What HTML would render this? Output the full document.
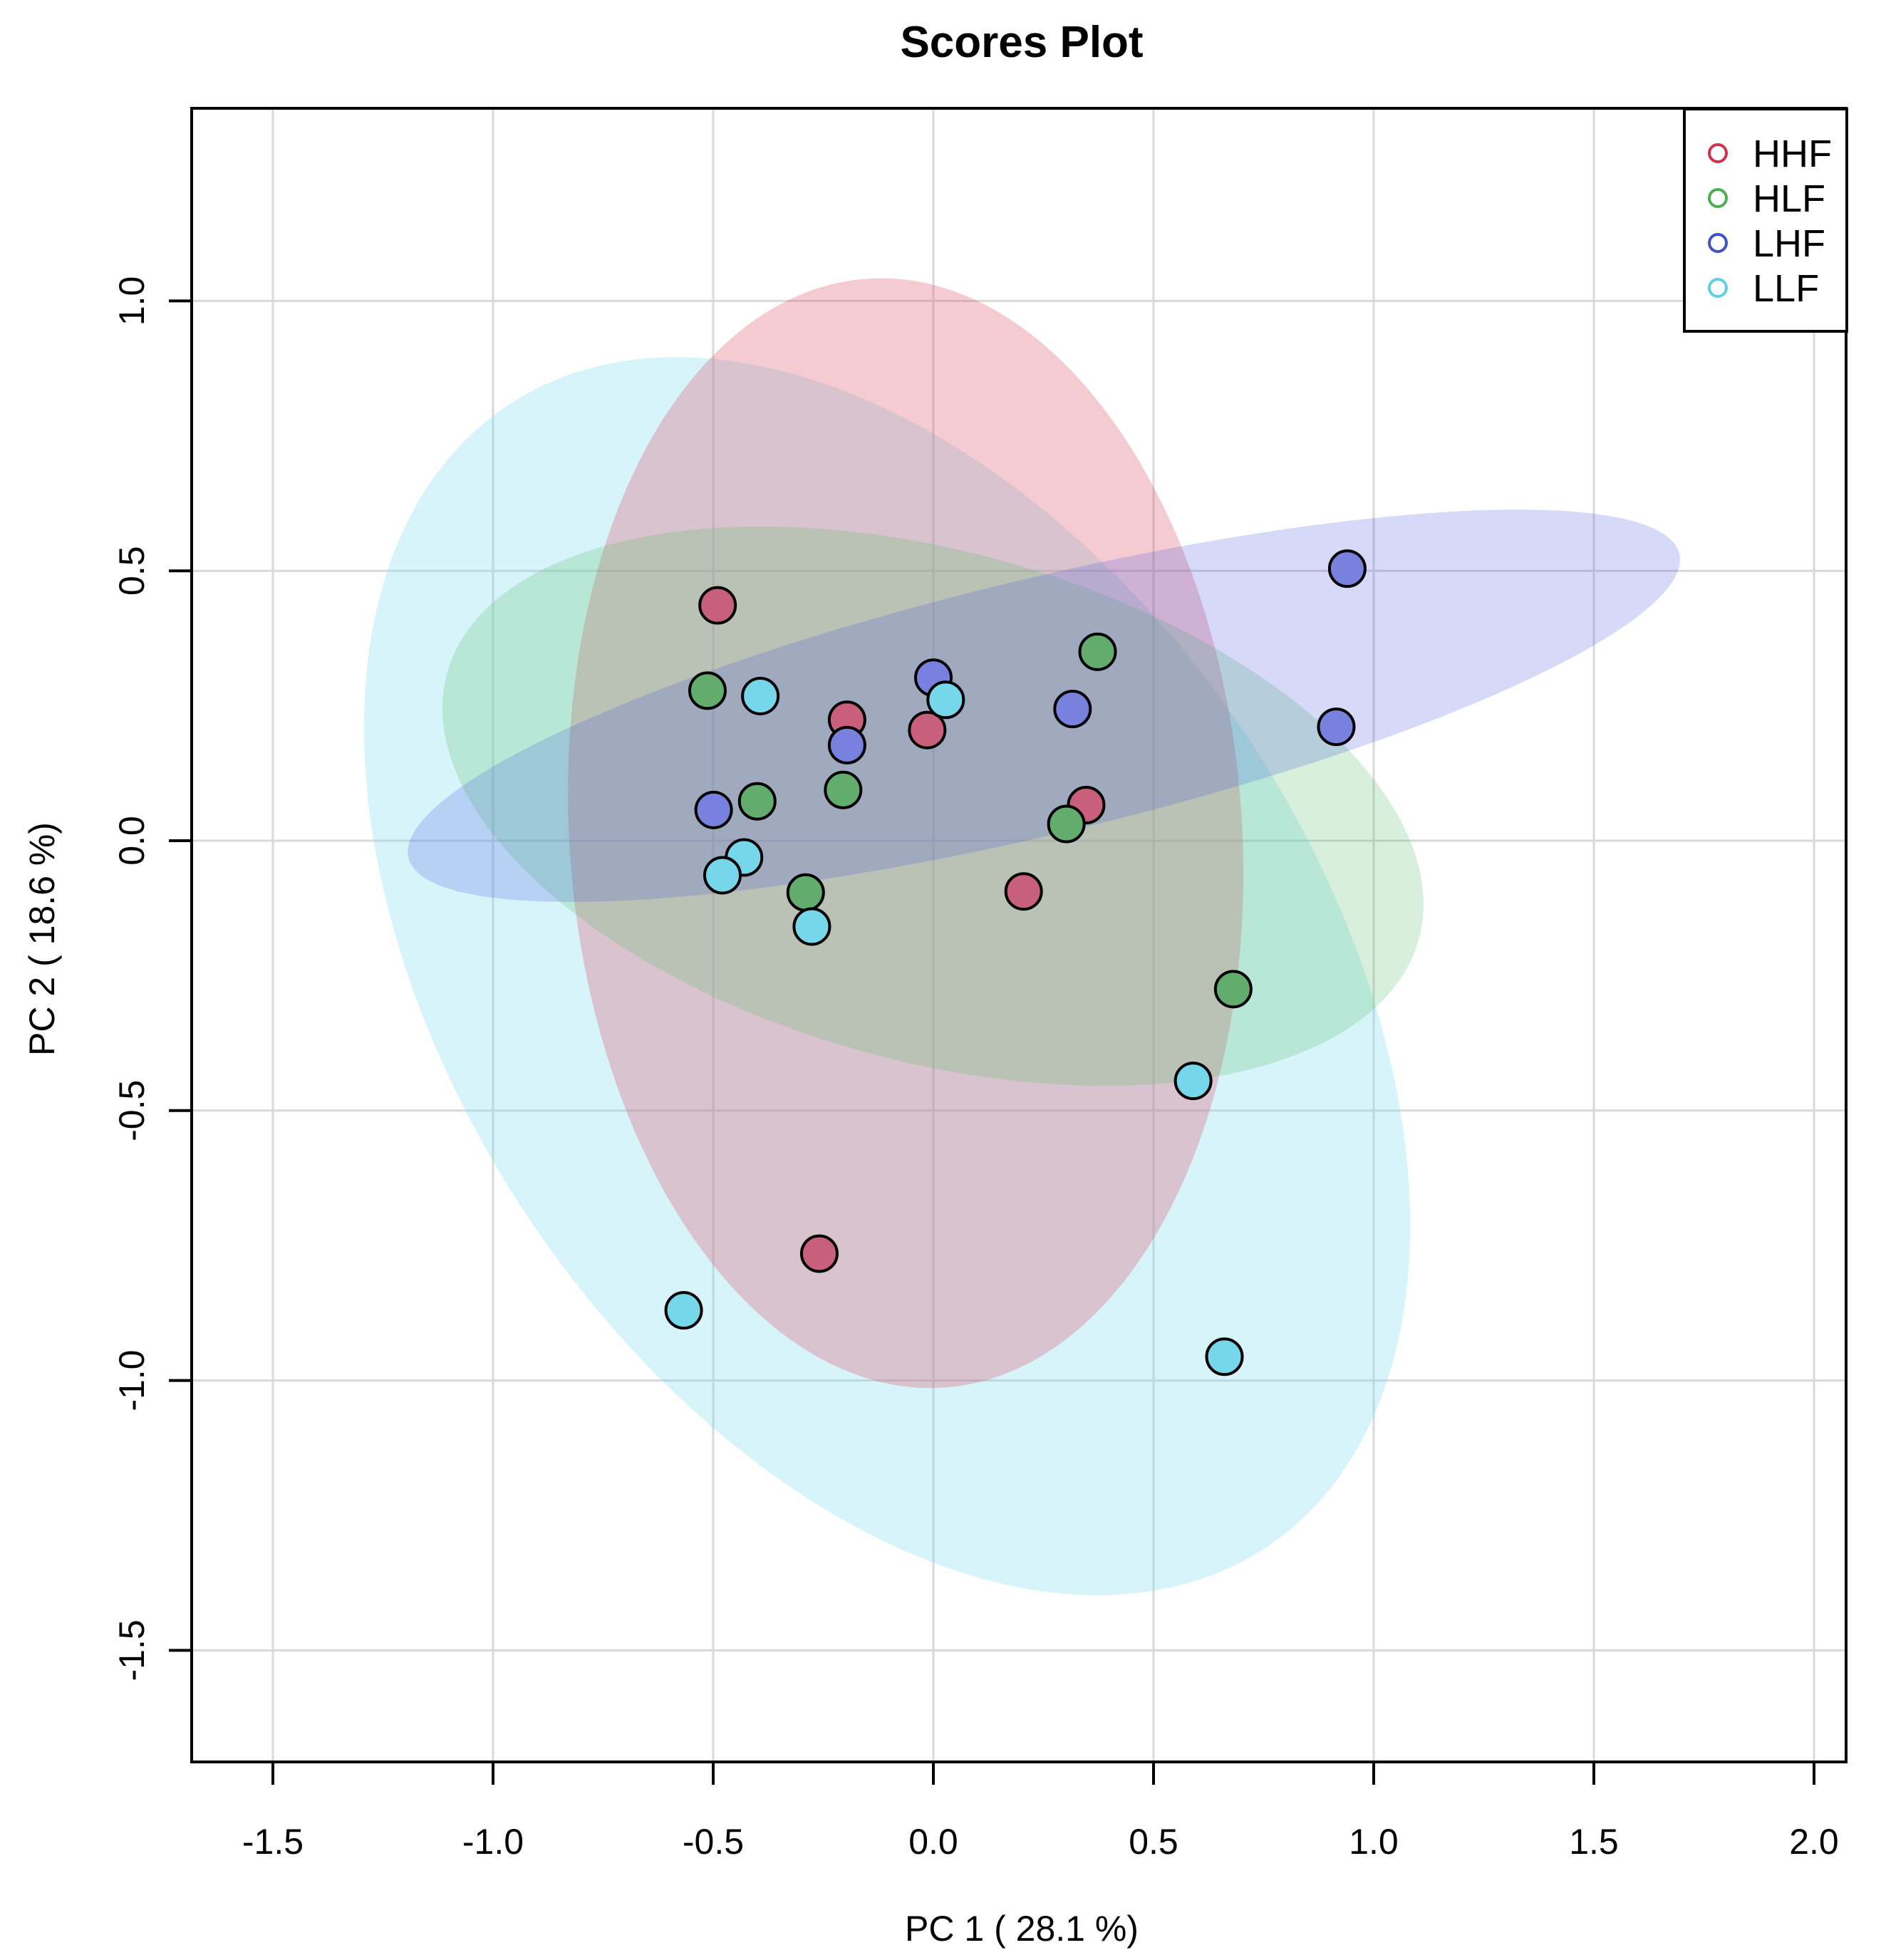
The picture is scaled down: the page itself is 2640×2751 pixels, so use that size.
<!DOCTYPE html>
<html><head><meta charset="utf-8"><style>
html,body{margin:0;padding:0;background:#fff;}
svg{display:block;}
text{font-family:"Liberation Sans",Arial,sans-serif;fill:#000;}
</style></head><body>
<svg id="chart" width="2640" height="2751" viewBox="0 0 2640 2751" xmlns="http://www.w3.org/2000/svg">
<text x="1434" y="80" font-size="62" font-weight="bold" text-anchor="middle">Scores Plot</text>
<g id="grid"></g>
<g id="ellipses"></g>
<g id="points"></g>
<rect x="269" y="152" width="2322" height="2321" fill="none" stroke="#000" stroke-width="4"/>
<g id="axes"></g>
<text x="1434" y="2724" font-size="50" text-anchor="middle">PC 1 ( 28.1 %)</text>
<text transform="translate(76,1318) rotate(-90)" font-size="50" text-anchor="middle">PC 2 ( 18.6 %)</text>
<g>
<rect x="2364" y="153" width="228" height="312" fill="#fff" stroke="#000" stroke-width="4"/>
<g id="legend"></g>
</g>
</svg>
<script>
const groups = ["HHF","HLF","LHF","LLF"];
const strokeColors = ["#d1334f","#4caf50","#3f51c8","#5fd0e6"];
const hhfX = [-0.49,-0.196,-0.014,0.347,0.205,-0.259];
const hhfY = [0.436,0.224,0.205,0.066,-0.094,-0.765];
const hlfX = [-0.513,0.373,-0.40,-0.205,0.302,-0.29,0.681];
const hlfY = [0.278,0.35,0.073,0.094,0.031,-0.096,-0.275];
const lhfX = [0.94,0.915,0.0,0.316,-0.196,-0.499];
const lhfY = [0.504,0.211,0.302,0.244,0.177,0.057];
const llfX = [-0.393,0.028,-0.43,-0.479,-0.276,0.59,-0.567,0.661];
const llfY = [0.268,0.261,-0.031,-0.064,-0.159,-0.445,-0.87,-0.956];
const xTicks = [-1.5,-1.0,-0.5,0.0,0.5,1.0,1.5,2.0];
const yTicks = [-1.5,-1.0,-0.5,0.0,0.5,1.0];
// ellipse centres in data units
const ellCX = [-0.063,-0.001,0.251,-0.105];
const ellCY = [0.014,0.064,0.250,-0.251];

const NS="http://www.w3.org/2000/svg";
const X0=1310, XU=618, Y0=1180, YU=757.6;
const L=269,R=2591,T=152,B=2473;
const sx=v=>X0+v*XU, sy=v=>Y0-v*YU;
function el(tag,attrs,parent){const e=document.createElementNS(NS,tag);for(const k in attrs)e.setAttribute(k,attrs[k]);parent.appendChild(e);return e;}
const grid=document.getElementById('grid'), axes=document.getElementById('axes');
xTicks.forEach(t=>{
  const g=el('line',{x1:sx(t),x2:sx(t),y1:T,y2:B,stroke:'#d9d9d9','stroke-width':3},grid);
  
  
  const tk=el('line',{x1:sx(t),x2:sx(t),y1:B,y2:B+32,stroke:'#000','stroke-width':4},axes);
  
  
  const tx=el('text',{x:sx(t),y:2602,'font-size':50,'text-anchor':'middle'},axes);
  tx.textContent=t.toFixed(1);
  
  
});
yTicks.forEach(t=>{
  const g=el('line',{x1:L,x2:R,y1:sy(t),y2:sy(t),stroke:'#d9d9d9','stroke-width':3},grid);
  
  
  const tk=el('line',{x1:L-32,x2:L,y1:sy(t),y2:sy(t),stroke:'#000','stroke-width':4},axes);
  
  
  const tx=el('text',{transform:`translate(202,${sy(t)}) rotate(-90)`,'font-size':50,'text-anchor':'middle'},axes);
  tx.textContent=t.toFixed(1);
  
  
});
// ellipses: pixel semi-axes and rotation (styling geometry)
const ellShape=[[472,780,-4],[707,358,15.3],[917,179,-13.45],[962,607,56.4]];
const fills=["rgba(223,83,107,0.3)","rgba(97,190,110,0.25)","rgba(70,85,225,0.22)","rgba(120,220,240,0.3)"];
const order=[3,0,1,2];
const eg=document.getElementById('ellipses');
order.forEach(i=>{
  const cx=sx(ellCX[i]), cy=sy(ellCY[i]);
  const e=el('ellipse',{cx:cx,cy:cy,rx:ellShape[i][0],ry:ellShape[i][1],transform:`rotate(${ellShape[i][2]} ${cx} ${cy})`,fill:fills[i]},eg);
  
  
});
const pts=document.getElementById('points');
const ptFill=["#c8607c","#62ad6e","#7882de","#76d6ea"];
const allX=[hhfX,hlfX,lhfX,llfX], allY=[hhfY,hlfY,lhfY,llfY];
allX.forEach((xs,i)=>{
  xs.forEach((x,j)=>{
    const c=el('circle',{cx:sx(x),cy:sy(allY[i][j]),r:25,fill:ptFill[i],stroke:'#000','stroke-width':4},pts);
    
    
  });
});
const lg=document.getElementById('legend');
groups.forEach((g,i)=>{
  const y=215+i*63;
  const c=el('circle',{cx:2411,cy:y,r:12,fill:'none',stroke:strokeColors[i],'stroke-width':4},lg);
  
  
  const t=el('text',{x:2460,y:y+19,'font-size':54},lg);
  t.textContent=g;
  
  
});
</script>
</body></html>
